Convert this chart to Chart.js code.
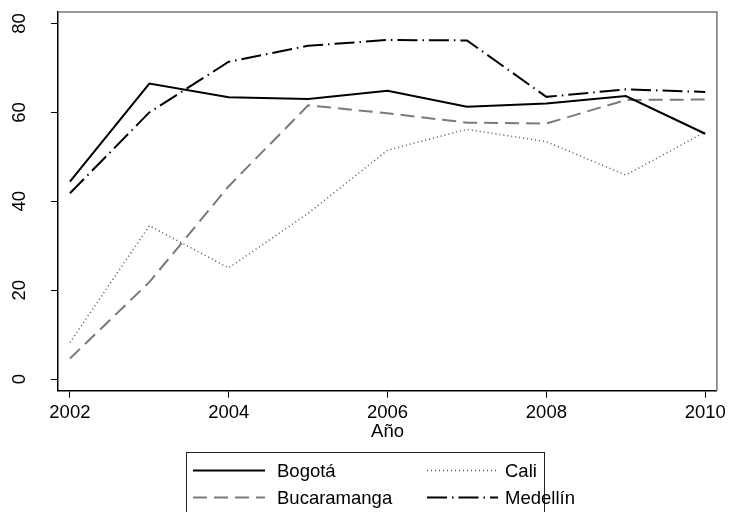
<!DOCTYPE html>
<html>
<head>
<meta charset="utf-8">
<script src="https://cdn.jsdelivr.net/npm/chart.js@4"></script>
<style>
  html, body { margin: 0; padding: 0; background: #fff; }
  #wrap { width: 730px; height: 512px; }
</style>
</head>
<body>
<div id="wrap"><canvas id="myChart" width="730" height="512"></canvas></div>
<script>
const years = [2002, 2003, 2004, 2005, 2006, 2007, 2008, 2009, 2010];
const bogota = [44.4, 66.5, 63.4, 63.0, 64.9, 61.3, 62.0, 63.7, 55.2];
const bucaramanga = [4.6, 21.8, 43.4, 61.6, 59.8, 57.7, 57.5, 62.8, 62.9];
const cali = [8.2, 34.5, 25.0, 37.3, 51.5, 56.2, 53.4, 45.9, 55.6];
const medellin = [41.8, 60.0, 71.4, 75.0, 76.3, 76.2, 63.5, 65.2, 64.6];
const xTicks = [2002, 2004, 2006, 2008, 2010];
const yTicks = [0, 20, 40, 60, 80];

const FONT = "'Liberation Sans', Arial, Helvetica, sans-serif";

function pts(arr) {
  return years.map((y, i) => ({ x: y, y: arr[i] }));
}

const data = {
  datasets: [
    {
      label: "Bogotá",
      data: pts(bogota),
      borderColor: "#000000",
      borderWidth: 2,
      borderDash: []
    },
    {
      label: "Bucaramanga",
      data: pts(bucaramanga),
      borderColor: "#7a7a7a",
      borderWidth: 2,
      borderDash: [14, 7]
    },
    {
      label: "Cali",
      data: pts(cali),
      borderColor: "#555555",
      borderWidth: 1.5,
      borderDash: [1, 3]
    },
    {
      label: "Medellín",
      data: pts(medellin),
      borderColor: "#000000",
      borderWidth: 2,
      borderDash: [20, 5, 1.5, 5]
    }
  ]
};

// box, rotated y labels, x title and the two-column legend
const stataPlugin = {
  id: 'stata',
  afterDraw(chart) {
    const ctx = chart.ctx;
    const a = chart.chartArea;
    const ys = chart.scales.y;
    ctx.save();
    // gray top and right edges of the plot region
    ctx.strokeStyle = "#777777";
    ctx.lineWidth = 1.5;
    ctx.beginPath();
    ctx.moveTo(a.left, a.top);
    ctx.lineTo(a.right, a.top);
    ctx.lineTo(a.right, a.bottom);
    ctx.stroke();

    // y labels, reading upwards
    ctx.fillStyle = "#000";
    ctx.font = "18.5px " + FONT;
    ctx.textAlign = "center";
    ctx.textBaseline = "middle";
    yTicks.forEach(v => {
      const py = ys.getPixelForValue(v);
      ctx.save();
      ctx.translate(19.5, py);
      ctx.rotate(-Math.PI / 2);
      ctx.fillText(String(v), 0, 0);
      ctx.restore();
    });

    // x axis title
    ctx.fillText("Año", (chart.scales.x.getPixelForValue(2006)), 432);

    // legend, filled column by column
    ctx.strokeStyle = "#222";
    ctx.lineWidth = 1;
    ctx.strokeRect(186.5, 452.5, 358, 70);
    const cols = [[193, 265, 277], [427, 498, 505]];
    const rows = [470.5, 497.5];
    chart.data.datasets.forEach((ds, i) => {
      const c = cols[Math.floor(i / 2)];
      const r = rows[i % 2];
      ctx.save();
      ctx.strokeStyle = ds.borderColor;
      ctx.lineWidth = ds.borderWidth;
      ctx.setLineDash(ds.borderDash);
      ctx.beginPath();
      ctx.moveTo(c[0], r);
      ctx.lineTo(c[1], r);
      ctx.stroke();
      ctx.restore();
      ctx.textAlign = "left";
      ctx.fillStyle = "#000";
      ctx.fillText(ds.label, c[2], r + 1);
    });
    ctx.restore();
  }
};

const config = {
  type: 'line',
  data: data,
  options: {
    responsive: false,
    animation: false,
    layout: { padding: { top: 12, right: 11, left: 0, bottom: 0 } },
    elements: {
      point: { radius: 0 },
      line: { tension: 0, fill: false }
    },
    plugins: {
      legend: { display: false },
      tooltip: { enabled: false },
      title: { display: false }
    },
    scales: {
      x: {
        type: 'linear',
        min: 2001.85,
        max: 2010.147,
        afterBuildTicks: s => { s.ticks = xTicks.map(v => ({ value: v })); },
        afterFit: s => { s.height = 121.3; },
        grid: {
          drawOnChartArea: false,
          drawTicks: true,
          tickLength: 7,
          color: "#000",
          lineWidth: 1
        },
        border: { display: true, color: "#000", width: 1.5 },
        ticks: {
          color: "#000",
          font: { family: FONT, size: 18.5 },
          padding: 4,
          maxRotation: 0,
          callback: v => String(v)
        }
      },
      y: {
        type: 'linear',
        min: -2.63,
        max: 82.6,
        afterBuildTicks: s => { s.ticks = yTicks.map(v => ({ value: v })); },
        afterFit: s => { s.width = 58; },
        grid: {
          drawOnChartArea: false,
          drawTicks: true,
          tickLength: 7,
          color: "#000",
          lineWidth: 1
        },
        border: { display: true, color: "#000", width: 1.5 },
        ticks: { display: false }
      }
    }
  },
  plugins: [stataPlugin]
};

const myChart = new Chart(document.getElementById('myChart'), config);
</script>
</body>
</html>
